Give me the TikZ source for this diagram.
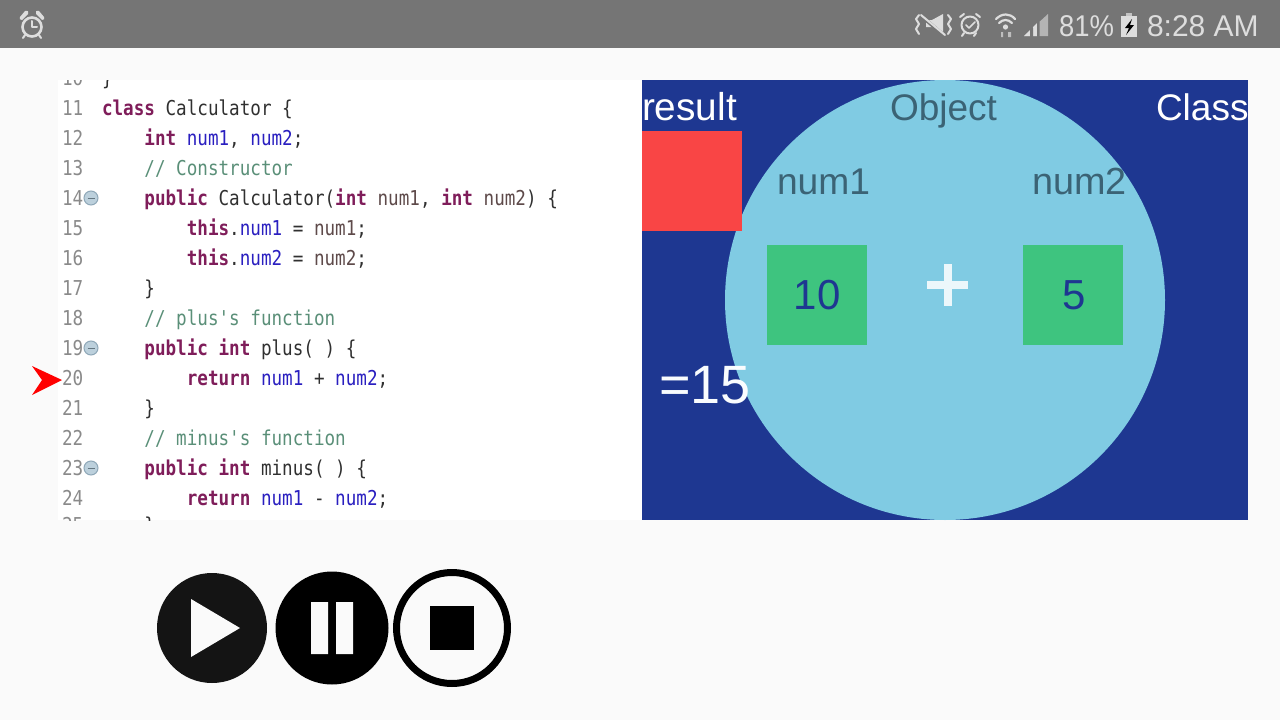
\documentclass[tikz,border=0pt]{standalone}
\usepackage{fontspec}
\usepackage{graphicx}
\setmainfont{Liberation Sans}
\newfontfamily\codefont[FakeStretch=0.859]{DejaVu Sans Mono}
\definecolor{pagebg}{HTML}{FAFAFA}
\definecolor{barbg}{HTML}{757575}
\definecolor{barfg}{HTML}{DDDDDD}
\definecolor{navy}{HTML}{1E3791}
\definecolor{sky}{HTML}{80CBE3}
\definecolor{redbox}{HTML}{F94545}
\definecolor{greenbox}{HTML}{3EC47F}
\definecolor{slate}{HTML}{3B6375}
\definecolor{kwc}{HTML}{7F1D5A}
\definecolor{fieldc}{HTML}{2A1FC0}
\definecolor{cmtc}{HTML}{5A8F78}
\definecolor{numc}{HTML}{8A8A8A}
\definecolor{txtc}{HTML}{303030}
\definecolor{parc}{HTML}{5E4A4A}
\definecolor{foldc}{HTML}{BCD0DC}
\definecolor{foldd}{HTML}{8FA8B8}
\newcommand{\kw}[1]{\textcolor{kwc}{\textbf{#1}}}
\newcommand{\fd}[1]{\textcolor{fieldc}{#1}}
\newcommand{\pr}[1]{\textcolor{parc}{#1}}
\newcommand{\cm}[1]{\textcolor{cmtc}{#1}}
\newcommand{\uisize}[1]{\fontsize{#1}{#1}\selectfont}
\tikzset{
  x=1pt,y=-1pt,
  codeline/.style={anchor=base west,inner sep=0pt,outer sep=0pt,text=txtc,font=\codefont\fontsize{20.5}{20.5}\selectfont},
  linenum/.style={anchor=base west,inner sep=0pt,outer sep=0pt,text=numc,font=\codefont\fontsize{20.5}{20.5}\selectfont},
  uitext/.style={anchor=base west,inner sep=0pt,outer sep=0pt},
  foldmark/.style={circle,inner sep=0pt,minimum size=14pt,fill=foldc,draw=foldd,line width=1pt},
  valuebox/.style={fill=greenbox,minimum size=100pt,inner sep=0pt,text=navy,font=\uisize{42}},
  statusicon/.style={draw=barfg,line width=2pt,line cap=round,line join=round},
}
\begin{document}
\begin{tikzpicture}
\useasboundingbox (0,0) rectangle (1280,720);
\fill[pagebg] (0,0) rectangle (1280,720);
% status bar
\fill[barbg] (0,0) rectangle (1280,48);
% left alarm
\draw[statusicon,line width=2.6pt] (32,27) circle (9.5);
\draw[statusicon] (32,21) -- (32,27) -- (37,27);
\fill[barfg] (20,17) -- (25,11) .. controls (28,10) and (29,12) .. (28,14) -- (22,20) .. controls (20,20) and (19,19) .. (20,17);
\fill[barfg] (44,17) -- (39,11) .. controls (36,10) and (35,12) .. (36,14) -- (42,20) .. controls (44,20) and (45,19) .. (44,17);
\draw[statusicon] (25,35) -- (23,38) (39,35) -- (41,38);
% mute vibrate
\fill[barfg] (926,20) -- (932,20) -- (943,14) -- (943,32) -- (932,27) -- (926,27) -- cycle;
\draw[barbg,line width=3.5pt] (920,15) -- (946,37);
\draw[statusicon] (921,15) -- (945,35);
\draw[statusicon] (919,15) -- (916,19) -- (919,24) -- (916,29) -- (919,34);
\draw[statusicon] (948,15) -- (951,19) -- (948,24) -- (951,29) -- (948,34);
% check alarm
\draw[statusicon] (970,25) circle (8.5);
\draw[statusicon,line width=1.6pt] (966,25) -- (969,28) -- (975,22);
\draw[statusicon] (960,17) -- (964,14) (980,17) -- (976,14) (964,33) -- (962,36) (976,33) -- (974,36);
% wifi
\draw[statusicon,line width=2.2pt] (996,19) .. controls (1002,13) and (1010,13) .. (1015,19);
\draw[statusicon,line width=2.2pt] (999,23) .. controls (1003,19) and (1008,19) .. (1012,23);
\fill[barfg] (1005.5,27) circle (2.6);
\fill[barfg!70!barbg] (1001,37) -- (1001,32) -- (1003,32) -- (1003,37) -- cycle (1008,37) -- (1008,32) -- (1011,32) -- (1011,37) -- cycle;
% signal
\fill[barfg!60!barbg] (1048,14) -- (1048,36) -- (1024,36) -- cycle;
\fill[barfg] (1024,36) -- (1030,30) -- (1030,36) -- cycle;
\fill[barfg] (1033,27) -- (1037,23) -- (1037,36) -- (1033,36) -- cycle;
\fill[barbg] (1030,28) rectangle (1033,37) (1037,22) rectangle (1039.5,37);
% texts
\node[uitext,text=barfg,font=\uisize{30}] (battxt) at (1059,36) {\scalebox{0.915}[1]{81\%}};
\fill[barfg!75!barbg] (1126,13) rectangle (1132,16);
\fill[barfg] (1121,16) rectangle (1137,37);
\fill[black] (1132,19) -- (1125,28) -- (1129,28) -- (1126,35) -- (1134,25) -- (1130,25) -- cycle;
\node[uitext,text=barfg,font=\uisize{30}] (clock) at (1147,36) {8:28 AM};
% code panel
\fill[white] (58,80) rectangle (642,520);
\begin{scope}
\clip (58,80) rectangle (642,520);
\node[linenum] (n10) at (62,85) {10};
\node[codeline] (l10) at (102,85) {\}};
\node[linenum] (n11) at (62,115) {11};
\node[codeline] (l11) at (102,115) {\kw{class} Calculator \{};
\node[linenum] (n12) at (62,145) {12};
\node[codeline] (l12) at (144.4,145) {\kw{int} \fd{num1}, \fd{num2};};
\node[linenum] (n13) at (62,175) {13};
\node[codeline] (l13) at (144.4,175) {\cm{// Constructor}};
\node[linenum] (n14) at (62,205) {14};
\node[codeline] (l14) at (144.4,205) {\kw{public} Calculator(\kw{int} \pr{num1}, \kw{int} \pr{num2}) \{};
\node[linenum] (n15) at (62,235) {15};
\node[codeline] (l15) at (186.8,235) {\kw{this}.\fd{num1} = \pr{num1};};
\node[linenum] (n16) at (62,265) {16};
\node[codeline] (l16) at (186.8,265) {\kw{this}.\fd{num2} = \pr{num2};};
\node[linenum] (n17) at (62,295) {17};
\node[codeline] (l17) at (144.4,295) {\}};
\node[linenum] (n18) at (62,325) {18};
\node[codeline] (l18) at (144.4,325) {\cm{// plus's function}};
\node[linenum] (n19) at (62,355) {19};
\node[codeline] (l19) at (144.4,355) {\kw{public} \kw{int} plus( ) \{};
\node[linenum] (n20) at (62,385) {20};
\node[codeline] (l20) at (186.8,385) {\kw{return} \fd{num1} + \fd{num2};};
\node[linenum] (n21) at (62,415) {21};
\node[codeline] (l21) at (144.4,415) {\}};
\node[linenum] (n22) at (62,445) {22};
\node[codeline] (l22) at (144.4,445) {\cm{// minus's function}};
\node[linenum] (n23) at (62,475) {23};
\node[codeline] (l23) at (144.4,475) {\kw{public} \kw{int} minus( ) \{};
\node[linenum] (n24) at (62,505) {24};
\node[codeline] (l24) at (186.8,505) {\kw{return} \fd{num1} - \fd{num2};};
\node[linenum] (n25) at (62,532.5) {25};
\node[codeline] (l25) at (144.4,532.5) {\}};
\end{scope}
% fold marks
\foreach \yy/\nm in {198/f14,348/f19,468/f23}{
  \node[foldmark] (\nm) at (91,\yy) {};
  \draw[foldd!70!black,line width=1pt] (87.5,\yy) -- (94.5,\yy);
}
% red marker
\fill[red] (32,366) -- (62,380) -- (32,395) -- (42,380) -- cycle;
% right panel
\fill[navy] (642,80) rectangle (1248,520);
\fill[sky] (945,300) circle (220);
\fill[redbox] (642,131) rectangle (742,231);
\node[uitext,text=white,font=\uisize{38.8}] (result) at (642,120) {result};
\node[uitext,text=slate,font=\uisize{37}] (object) at (890,120) {Object};
\node[uitext,text=white,font=\uisize{37}] (class) at (1156,120) {Class};
\node[uitext,text=slate,font=\uisize{37.2}] (num1) at (777,194) {num1};
\node[uitext,text=slate,font=\uisize{37.8}] (num2) at (1032,194) {num2};
\node[valuebox] (v1) at (817,295) {\raisebox{-1.5pt}{10}};
\node[valuebox] (v2) at (1073,295) {\raisebox{-1.5pt}{\hspace{2pt}5}};
\fill[white!85!sky] (927,281) rectangle (968,289);
\fill[white!85!sky] (943.5,264) rectangle (951.5,306);
\node[uitext,text=white!95!sky,font=\uisize{54}] (res) at (659,403) {=15};
% buttons
\fill[black!92] (212,628) circle (55);
\fill[pagebg] (191,599) -- (240,628) -- (191,657) -- cycle;
\fill[black] (332,628) circle (56.5);
\fill[pagebg] (311,602) rectangle (328,654) (336,602) rectangle (353,654);
\draw[black,line width=7pt] (452,628) circle (55.5);
\fill[black] (430,606) rectangle (474,650);
\end{tikzpicture}
\end{document}
